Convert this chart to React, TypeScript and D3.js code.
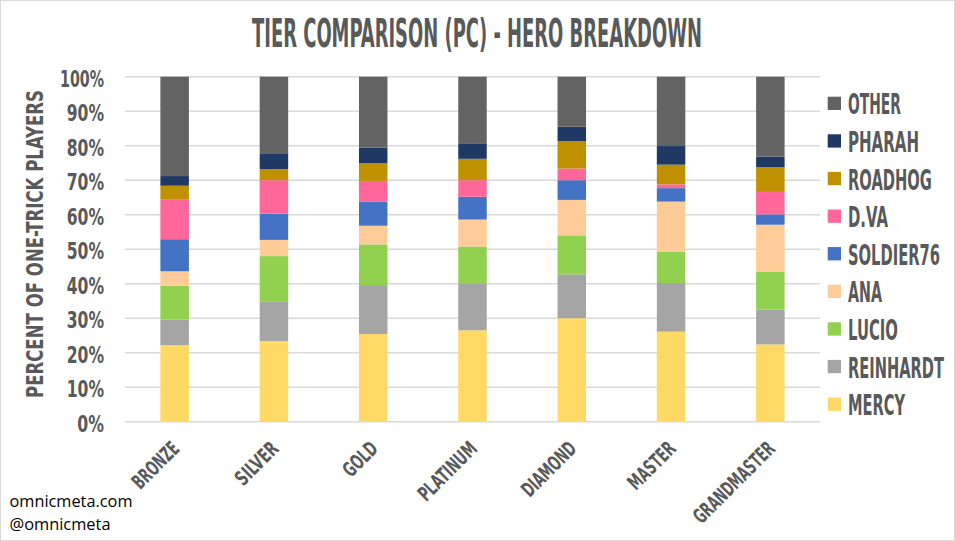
import React, { useLayoutEffect, useRef } from 'react'
import * as d3 from 'd3'

// tiers and hero shares (% of one-trick players)
const tiers = ['BRONZE', 'SILVER', 'GOLD', 'PLATINUM', 'DIAMOND', 'MASTER', 'GRANDMASTER']
const mercy = [22.2, 23.4, 25.4, 26.5, 30.0, 26.1, 22.4]
const reinhardt = [7.4, 11.5, 14.2, 13.6, 12.7, 14.1, 10.1]
const lucio = [9.8, 13.1, 11.8, 10.7, 11.3, 9.0, 10.9]
const ana = [4.2, 4.7, 5.4, 7.8, 10.3, 14.6, 13.7]
const soldier76 = [9.3, 7.6, 7.0, 6.6, 5.7, 3.9, 3.0]
const dva = [11.6, 9.7, 6.0, 4.8, 3.4, 1.1, 6.5]
const roadhog = [3.9, 3.2, 5.1, 6.2, 7.9, 5.7, 7.2]
const pharah = [2.8, 4.4, 4.5, 4.5, 4.2, 5.4, 3.0]
const other = [28.8, 22.4, 20.6, 19.3, 14.5, 20.1, 23.2]

const heroes = ['MERCY', 'REINHARDT', 'LUCIO', 'ANA', 'SOLDIER76', 'D.VA', 'ROADHOG', 'PHARAH', 'OTHER']
const heroValues = [mercy, reinhardt, lucio, ana, soldier76, dva, roadhog, pharah, other]
const heroColors = ['#ffd966', '#a5a5a5', '#92d050', '#ffcc99', '#4472c4', '#ff6699', '#bf9000', '#1f3864', '#636363']
const yTicks = [0, 10, 20, 30, 40, 50, 60, 70, 80, 90, 100]

// measured text widths (the original font is very narrow)
const legendWidths = [57, 96, 50, 34, 92, 40, 84, 71, 53]
const tierWidths = [57, 52, 40, 74, 68, 58, 106]

const W = 955
const H = 541
const FONT = '"DejaVu Sans Condensed", "DejaVu Sans", sans-serif'
const GREY = '#595959'

// squeezes a text horizontally so it is `width` px wide
const FitText = ({ transform, width, anchor = 'start', size, children, ...rest }: any) => {
  const ref = useRef<SVGTextElement>(null)
  useLayoutEffect(() => {
    const el = ref.current
    if (!el) return
    const natural = el.getComputedTextLength()
    const k = natural > 0 ? width / natural : 1
    d3.select(el).attr('transform', `scale(${k},1)`)
  }, [width, children])
  return (
    <g transform={transform}>
      <text ref={ref} textAnchor={anchor} fontFamily={FONT} fontWeight="bold" fontSize={size} fill={GREY} {...rest}>
        {children}
      </text>
    </g>
  )
}

const App = () => {
  const table = tiers.map((t, i) => {
    const row: any = { tier: t }
    heroes.forEach((h, j) => (row[h] = heroValues[j][i]))
    return row
  })
  const stacked = d3.stack().keys(heroes)(table)

  const x = d3.scaleBand().domain(tiers).range([125, 820]).paddingInner(0.713).paddingOuter(0.3565)
  const y = d3.scaleLinear().domain([0, 100]).range([421.7, 76.7])

  return (
    <svg width={W} height={H} style={{ position: 'absolute', left: 0, top: 0, background: '#fff' }}>
      <rect x={0.5} y={0.5} width={W - 1} height={H - 1} fill="#fff" stroke="#d9d9d9" />

      <FitText transform="translate(477,46.7)" anchor="middle" size={38.4} width={450}>
        TIER COMPARISON (PC) - HERO BREAKDOWN
      </FitText>

      {/* gridlines + y tick labels */}
      {yTicks.map((t) => (
        <g key={t}>
          <line x1={125} x2={820} y1={y(t)} y2={y(t)} stroke="#d9d9d9" strokeWidth={1.5} />
          <FitText transform={`translate(104,${y(t) + 9.8})`} anchor="end" size={23.3}
            width={t === 100 ? 44 : t === 0 ? 26.7 : 37.3}>
            {t + '%'}
          </FitText>
        </g>
      ))}

      <FitText transform="translate(43.3,244) rotate(-90)" anchor="middle" size={23.3} width={308}>
        PERCENT OF ONE-TRICK PLAYERS
      </FitText>

      {/* stacked bars */}
      {stacked.map((s, j) => (
        <g key={s.key} fill={heroColors[j]}>
          {s.map((d, i) => (
            <rect key={i} x={x(tiers[i])} width={x.bandwidth()} y={y(d[1])} height={y(d[0]) - y(d[1])} />
          ))}
        </g>
      ))}

      {/* rotated category labels */}
      {tiers.map((t, i) => (
        <FitText key={t} transform={`translate(${x(t)! + x.bandwidth() / 2 + 6},450) rotate(-45)`} anchor="end"
          size={20.5} width={tierWidths[i]}>
          {t}
        </FitText>
      ))}

      {/* legend, top entry is the last series */}
      {heroes.slice().reverse().map((h, k) => {
        const j = heroes.length - 1 - k
        const by = 114.3 + k * 37.6
        return (
          <g key={h}>
            <rect x={827.7} y={by - 17.6} width={13.3} height={13.3} fill={heroColors[j]} />
            <FitText transform={`translate(848,${by})`} size={28.8} width={legendWidths[j]}>
              {h}
            </FitText>
          </g>
        )
      })}

      <text x={9.5} y={507} fontFamily='"Open Sans", "Noto Sans", sans-serif' fontSize={16.5} fill="#000"
        textLength={123} lengthAdjust="spacingAndGlyphs">
        omnicmeta.com
      </text>
      <text x={9.5} y={530} fontFamily='"Open Sans", "Noto Sans", sans-serif' fontSize={16.5} fill="#000"
        textLength={101} lengthAdjust="spacingAndGlyphs">
        @omnicmeta
      </text>
    </svg>
  )
}

export default App
